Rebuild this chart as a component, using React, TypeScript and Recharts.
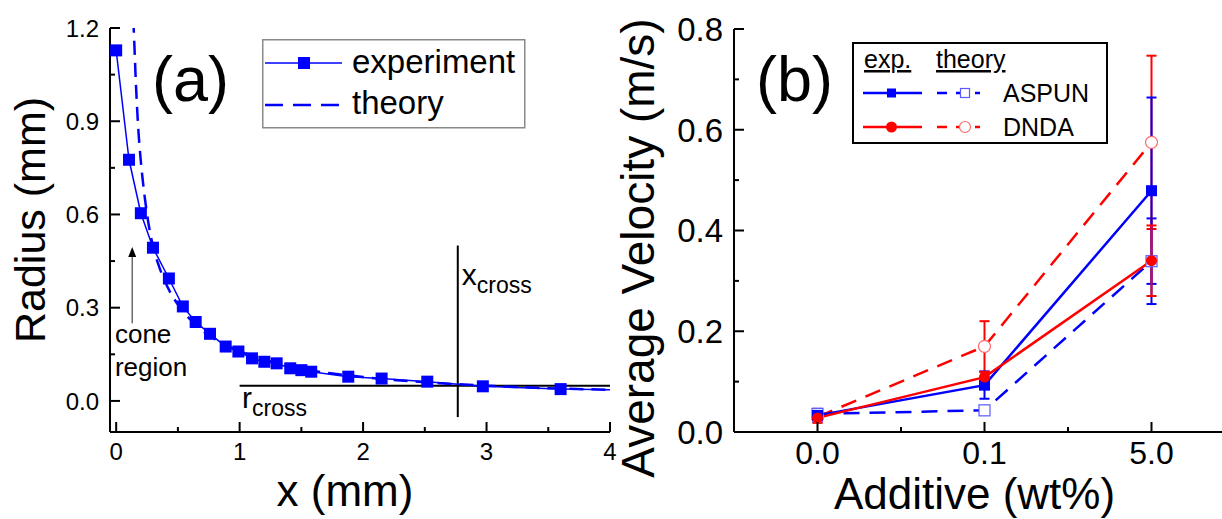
import React from 'react';
import { LineChart, Line, XAxis, YAxis, ReferenceLine, ReferenceDot, Legend, ErrorBar } from 'recharts';

const FONT = "'Liberation Sans', Arial, Helvetica, sans-serif";
const BLUE = '#0000ff';
const RED = '#ff0000';
const BLUE_L = '#5a5aff';
const RED_L = '#ff6a6a';

// ---------- Panel (a) data ----------
const expX = [0, 0.104, 0.2, 0.298, 0.427, 0.54, 0.644, 0.76, 0.887, 0.99, 1.1, 1.2, 1.3, 1.41, 1.5, 1.58, 1.88, 2.15, 2.52, 2.97, 3.6, 4.3];
const expR = [1.128, 0.776, 0.604, 0.493, 0.394, 0.304, 0.254, 0.216, 0.175, 0.159, 0.137, 0.126, 0.121, 0.105, 0.099, 0.094, 0.078, 0.072, 0.062, 0.047, 0.038, 0.034];
const theoryX = [0.13, 0.145, 0.16, 0.18, 0.2, 0.23, 0.26, 0.3, 0.35, 0.4, 0.5, 0.6, 0.7, 0.8, 1.0, 1.2, 1.5, 2.0, 2.5, 3.0, 3.5, 4.0];
const theoryR = [1.3, 1.17, 1.02, 0.87, 0.77, 0.66, 0.575, 0.495, 0.43, 0.38, 0.31, 0.262, 0.226, 0.199, 0.16, 0.133, 0.104, 0.077, 0.06, 0.049, 0.041, 0.036];
const aXMajor = [0, 1, 2, 3, 4];
const aXLabels = ['0', '1', '2', '3', '4'];
const aXMinor = [0.5, 1.5, 2.5, 3.5];
const aYMajor = [0, 0.3, 0.6, 0.9, 1.2];
const aYLabels = ['0.0', '0.3', '0.6', '0.9', '1.2'];
const aYMinor = [0.15, 0.45, 0.75, 1.05];
const rCross = 0.049;
const xCross = 2.767;

// ---------- Panel (b) data ----------
const categories = ['0.0', '0.1', '5.0'];
const aspunExp = [0.033, 0.093, 0.479];
const aspunExpErr = [0.013, 0.027, 0.185];
const dndaExp = [0.028, 0.109, 0.34];
const dndaExpErr = [0.01, 0.01, 0.07];
const aspunTheory = [0.036, 0.043, 0.339];
const aspunTheoryErr = [0.005, 0, 0.085];
const dndaTheory = [0.03, 0.17, 0.575];
const dndaTheoryErr = [0, 0.05, 0.172];
const bYMajor = [0, 0.2, 0.4, 0.6, 0.8];
const bYLabels = ['0.0', '0.2', '0.4', '0.6', '0.8'];
const bYMinor = [0.1, 0.3, 0.5, 0.7];
const bXMajor = [0, 1, 2];
const bXMinor = [0.5, 1.5];

const expData = expX.map((x, i) => ({ x, r: expR[i] }));
const theoryData = theoryX.map((x, i) => ({ x, r: theoryR[i] }));
const bData = categories.map((c, i) => ({
  i,
  cat: c,
  aspunExp: aspunExp[i],
  aspunExpErr: aspunExpErr[i],
  dndaExp: dndaExp[i],
  dndaExpErr: dndaExpErr[i],
  aspunTheory: aspunTheory[i],
  aspunTheoryErr: aspunTheoryErr[i],
  dndaTheory: dndaTheory[i],
  dndaTheoryErr: dndaTheoryErr[i],
}));

const sortNums = (a: number[]) => [...a].sort((p, q) => p - q);
const findIdx = (arr: number[], v: number) => arr.findIndex((m) => Math.abs(m - v) < 1e-9);

// ---------- tick renderers ----------
const leftTick = (major: number[], labels: string[], fontSize: number, gap: number) => (props: any) => {
  const { x, y, payload } = props;
  const idx = findIdx(major, payload.value);
  const len = idx >= 0 ? 10 : 5;
  return (
    <g>
      <line x1={x} y1={y} x2={x + len} y2={y} stroke="#000" strokeWidth={2} />
      {idx >= 0 && (
        <text x={x - gap} y={y} dy="0.36em" textAnchor="end" fontSize={fontSize} fontFamily={FONT} fill="#000">
          {labels[idx]}
        </text>
      )}
    </g>
  );
};
const rightTick = (major: number[]) => (props: any) => {
  const { x, y, payload } = props;
  const idx = findIdx(major, payload.value);
  const len = idx >= 0 ? 10 : 5;
  return <line x1={x} y1={y} x2={x - len} y2={y} stroke="#000" strokeWidth={2} />;
};
const bottomTick = (major: number[], labels: string[], fontSize: number, off: number) => (props: any) => {
  const { x, y, payload } = props;
  const idx = findIdx(major, payload.value);
  const len = idx >= 0 ? 10 : 5;
  return (
    <g>
      <line x1={x} y1={y} x2={x} y2={y - len} stroke="#000" strokeWidth={2} />
      {idx >= 0 && (
        <text x={x} y={y + off} textAnchor="middle" fontSize={fontSize} fontFamily={FONT} fill="#000">
          {labels[idx]}
        </text>
      )}
    </g>
  );
};

// ---------- dots ----------
const squareDot = (size: number, fill: string, stroke: string, sw: number) => (props: any) => {
  const { cx, cy, index } = props;
  if (cx == null || cy == null) return <g key={`s-${index}`} />;
  return (
    <rect key={`s-${index}`} x={cx - size / 2} y={cy - size / 2} width={size} height={size} fill={fill} stroke={stroke} strokeWidth={sw} />
  );
};
const circleDot = (r: number, fill: string, stroke: string, sw: number) => (props: any) => {
  const { cx, cy, index } = props;
  if (cx == null || cy == null) return <g key={`c-${index}`} />;
  return <circle key={`c-${index}`} cx={cx} cy={cy} r={r} fill={fill} stroke={stroke} strokeWidth={sw} />;
};

const textShape = (main: string, sub: string | null, fontSize: number, subSize = 23, subDy = 8) => (p: any) => (
  <text x={p.cx} y={p.cy} fontSize={fontSize} fontFamily={FONT} fill="#000">
    {main}
    {sub && (
      <tspan fontSize={subSize} dy={subDy}>
        {sub}
      </tspan>
    )}
  </text>
);

const arrowShape = (p: any) => {
  const { x1, y1, x2, y2 } = p;
  const tipY = Math.min(y1, y2);
  const baseY = Math.max(y1, y2);
  return (
    <g>
      <line x1={x1} y1={baseY} x2={x2} y2={tipY + 8} stroke="#555" strokeWidth={1.3} />
      <polygon points={`${x1 - 4},${tipY + 10} ${x1 + 4},${tipY + 10} ${x1},${tipY}`} fill="#000" />
    </g>
  );
};

// ---------- legends ----------
const LegendA = () => (
  <svg width={264} height={90} style={{ display: 'block' }}>
    <rect x={0.75} y={0.75} width={262} height={88} fill="#fff" stroke="#8a8a8a" strokeWidth={1.5} />
    <line x1={3} y1={24} x2={80} y2={24} stroke={BLUE} strokeWidth={1.5} />
    <rect x={36} y={18} width={12} height={12} fill={BLUE} />
    <text x={90} y={34} fontSize={33} fontFamily={FONT} fill="#000">experiment</text>
    <line x1={3} y1={66} x2={80} y2={66} stroke={BLUE} strokeWidth={2.5} strokeDasharray="18 10" />
    <text x={90} y={75} fontSize={33} fontFamily={FONT} fill="#000">theory</text>
  </svg>
);

const LegendB = () => (
  <svg width={256} height={102} style={{ display: 'block' }}>
    <rect x={1} y={1} width={254} height={100} fill="#fff" stroke="#000" strokeWidth={2} />
    <text x={12} y={26} fontSize={25} fontFamily={FONT} fill="#000" style={{ textDecoration: 'underline' }}>exp.</text>
    <text x={84} y={26} fontSize={25} fontFamily={FONT} fill="#000" style={{ textDecoration: 'underline' }}>theory</text>
    <line x1={11} y1={51} x2={70} y2={51} stroke={BLUE} strokeWidth={2.5} />
    <rect x={35} y={46.5} width={9} height={9} fill={BLUE} />
    <line x1={85} y1={51} x2={128} y2={51} stroke={BLUE} strokeWidth={2.5} strokeDasharray="10 9" />
    <rect x={108.5} y={46.5} width={9} height={9} fill="#fff" stroke={BLUE_L} strokeWidth={1.2} />
    <text x={151} y={60} fontSize={25} fontFamily={FONT} fill="#000">ASPUN</text>
    <line x1={11} y1={85} x2={70} y2={85} stroke={RED} strokeWidth={2.5} />
    <circle cx={39.5} cy={85} r={5.5} fill={RED} />
    <line x1={85} y1={85} x2={128} y2={85} stroke={RED} strokeWidth={2.5} strokeDasharray="10 9" />
    <circle cx={113} cy={85} r={5.5} fill="#fff" stroke={RED_L} strokeWidth={1.2} />
    <text x={151} y={94} fontSize={25} fontFamily={FONT} fill="#000">DNDA</text>
  </svg>
);

// ---------- axis titles ----------
const yTitle = (text: string, fontSize: number, dxBase: number, dyCenter: number) => (props: any) => {
  const vb = props.viewBox || {};
  const x = vb.x + dxBase;
  const y = vb.y + vb.height / 2 + dyCenter;
  return (
    <text x={x} y={y} transform={`rotate(-90, ${x}, ${y})`} textAnchor="middle" fontSize={fontSize} fontFamily={FONT} fill="#000">
      {text}
    </text>
  );
};
const xTitle = (text: string, fontSize: number, dxCenter: number, dyBase: number) => (props: any) => {
  const vb = props.viewBox || {};
  const x = vb.x + vb.width / 2 + dxCenter;
  const y = vb.y + dyBase;
  return (
    <text x={x} y={y} textAnchor="middle" fontSize={fontSize} fontFamily={FONT} fill="#000">
      {text}
    </text>
  );
};

const PanelA = () => (
  <LineChart width={620} height={519} margin={{ top: 28, right: 10, bottom: 0, left: 0 }}>
    <XAxis
      dataKey="x"
      type="number"
      domain={[-0.05, 4]}
      allowDataOverflow
      ticks={sortNums([...aXMajor, ...aXMinor])}
      interval={0}
      height={87}
      tickSize={0}
      tickMargin={0}
      tickLine={false}
      axisLine={{ stroke: '#000', strokeWidth: 2 }}
      tick={bottomTick(aXMajor, aXLabels, 24, 28)}
      label={xTitle('x (mm)', 44, -15, 74)}
    />
    <XAxis xAxisId="top" orientation="top" type="number" domain={[-0.05, 4]} allowDataOverflow height={0} tick={false} tickLine={false} axisLine={{ stroke: '#000', strokeWidth: 2 }} />
    <YAxis
      type="number"
      domain={[-0.1, 1.2]}
      allowDataOverflow
      ticks={sortNums([...aYMajor, ...aYMinor])}
      interval={0}
      width={110}
      tickSize={0}
      tickMargin={0}
      tickLine={false}
      axisLine={{ stroke: '#000', strokeWidth: 2 }}
      tick={leftTick(aYMajor, aYLabels, 24, 11)}
      label={yTitle('Radius (mm)', 43, 45, -10)}
    />
    <YAxis
      yAxisId="right"
      orientation="right"
      type="number"
      domain={[-0.1, 1.2]}
      allowDataOverflow
      ticks={sortNums([...aYMajor, ...aYMinor])}
      interval={0}
      width={0}
      tickSize={0}
      tickMargin={0}
      tickLine={false}
      axisLine={{ stroke: '#000', strokeWidth: 2 }}
      tick={rightTick(aYMajor)}
    />
    <ReferenceLine segment={[{ x: 1.0, y: rCross }, { x: 4, y: rCross }]} stroke="#000" strokeWidth={2} />
    <ReferenceLine segment={[{ x: xCross, y: 0.5 }, { x: xCross, y: -0.052 }]} stroke="#000" strokeWidth={2} />
    <ReferenceLine segment={[{ x: 0.13, y: 0.25 }, { x: 0.13, y: 0.495 }]} shape={arrowShape} />
    <Line data={theoryData} dataKey="r" type="monotone" stroke={BLUE} strokeWidth={2.5} strokeDasharray="14 8" dot={false} isAnimationActive={false} />
    <Line data={expData} dataKey="r" type="linear" stroke={BLUE} strokeWidth={1.5} dot={squareDot(12, BLUE, BLUE, 0)} isAnimationActive={false} />
    <ReferenceDot x={0.29} y={0.965} shape={textShape('(a)', null, 63)} />
    <ReferenceDot x={2.8} y={0.373} shape={textShape('x', 'cross', 30)} />
    <ReferenceDot x={1.02} y={-0.023} shape={textShape('r', 'cross', 30)} />
    <ReferenceDot x={-0.01} y={0.186} shape={textShape('cone', null, 26)} />
    <ReferenceDot x={-0.01} y={0.08} shape={textShape('region', null, 26)} />
    <Legend
      layout="horizontal"
      verticalAlign="middle"
      align="center"
      content={() => <LegendA />}
      wrapperStyle={{ left: 262, top: 39, width: 264, height: 90 }}
    />
  </LineChart>
);

const PanelB = () => (
  <LineChart width={720} height={519} data={bData} margin={{ top: 29, right: 85, bottom: 0, left: 0 }}>
    <XAxis
      dataKey="i"
      type="number"
      domain={[-0.5, 2.5]}
      allowDataOverflow
      ticks={sortNums([...bXMajor, ...bXMinor])}
      interval={0}
      height={87}
      tickSize={0}
      tickMargin={0}
      tickLine={false}
      axisLine={{ stroke: '#000', strokeWidth: 2 }}
      tick={bottomTick(bXMajor, categories, 32, 32)}
      label={xTitle('Additive (wt%)', 44, -10, 77)}
    />
    <XAxis xAxisId="top" orientation="top" type="number" domain={[-0.5, 2.5]} allowDataOverflow height={0} tick={false} tickLine={false} axisLine={{ stroke: '#000', strokeWidth: 2 }} />
    <YAxis
      type="number"
      domain={[0, 0.8]}
      allowDataOverflow
      ticks={sortNums([...bYMajor, ...bYMinor])}
      interval={0}
      width={134}
      tickSize={0}
      tickMargin={0}
      tickLine={false}
      axisLine={{ stroke: '#000', strokeWidth: 2 }}
      tick={leftTick(bYMajor, bYLabels, 33, 11)}
      label={yTitle('Average Velocity (m/s)', 46, 54, 17.5)}
    />
    <Line dataKey="aspunTheory" type="linear" stroke={BLUE} strokeWidth={2.5} strokeDasharray="16 10" dot={squareDot(11, '#fff', BLUE_L, 1.2)} isAnimationActive={false}>
      <ErrorBar dataKey="aspunTheoryErr" width={5} stroke={BLUE} strokeWidth={2} direction="y" />
    </Line>
    <Line dataKey="dndaTheory" type="linear" stroke={RED} strokeWidth={2.5} strokeDasharray="16 10" dot={circleDot(6, '#fff', RED_L, 1.2)} isAnimationActive={false}>
      <ErrorBar dataKey="dndaTheoryErr" width={5} stroke={RED} strokeWidth={2} direction="y" />
    </Line>
    <Line dataKey="aspunExp" type="linear" stroke={BLUE} strokeWidth={2.5} dot={squareDot(11, BLUE, BLUE, 0)} isAnimationActive={false}>
      <ErrorBar dataKey="aspunExpErr" width={5} stroke={BLUE} strokeWidth={2} direction="y" />
    </Line>
    <Line dataKey="dndaExp" type="linear" stroke={RED} strokeWidth={2.5} dot={circleDot(5.5, RED, RED, 0)} isAnimationActive={false}>
      <ErrorBar dataKey="dndaExpErr" width={5} stroke={RED} strokeWidth={2} direction="y" />
    </Line>
    <ReferenceDot x={-0.368} y={0.657} shape={textShape('(b)', null, 63)} />
    <Legend
      layout="horizontal"
      verticalAlign="middle"
      align="center"
      content={() => <LegendB />}
      wrapperStyle={{ left: 252, top: 42, width: 256, height: 102 }}
    />
  </LineChart>
);

export default function App() {
  return (
    <div style={{ position: 'fixed', left: 0, top: 0, width: 1222, height: 519, overflow: 'hidden', background: '#fff' }}>
      <div style={{ position: 'absolute', left: 0, top: 0 }}>
        <PanelA />
      </div>
      <div style={{ position: 'absolute', left: 600, top: 0 }}>
        <PanelB />
      </div>
    </div>
  );
}
